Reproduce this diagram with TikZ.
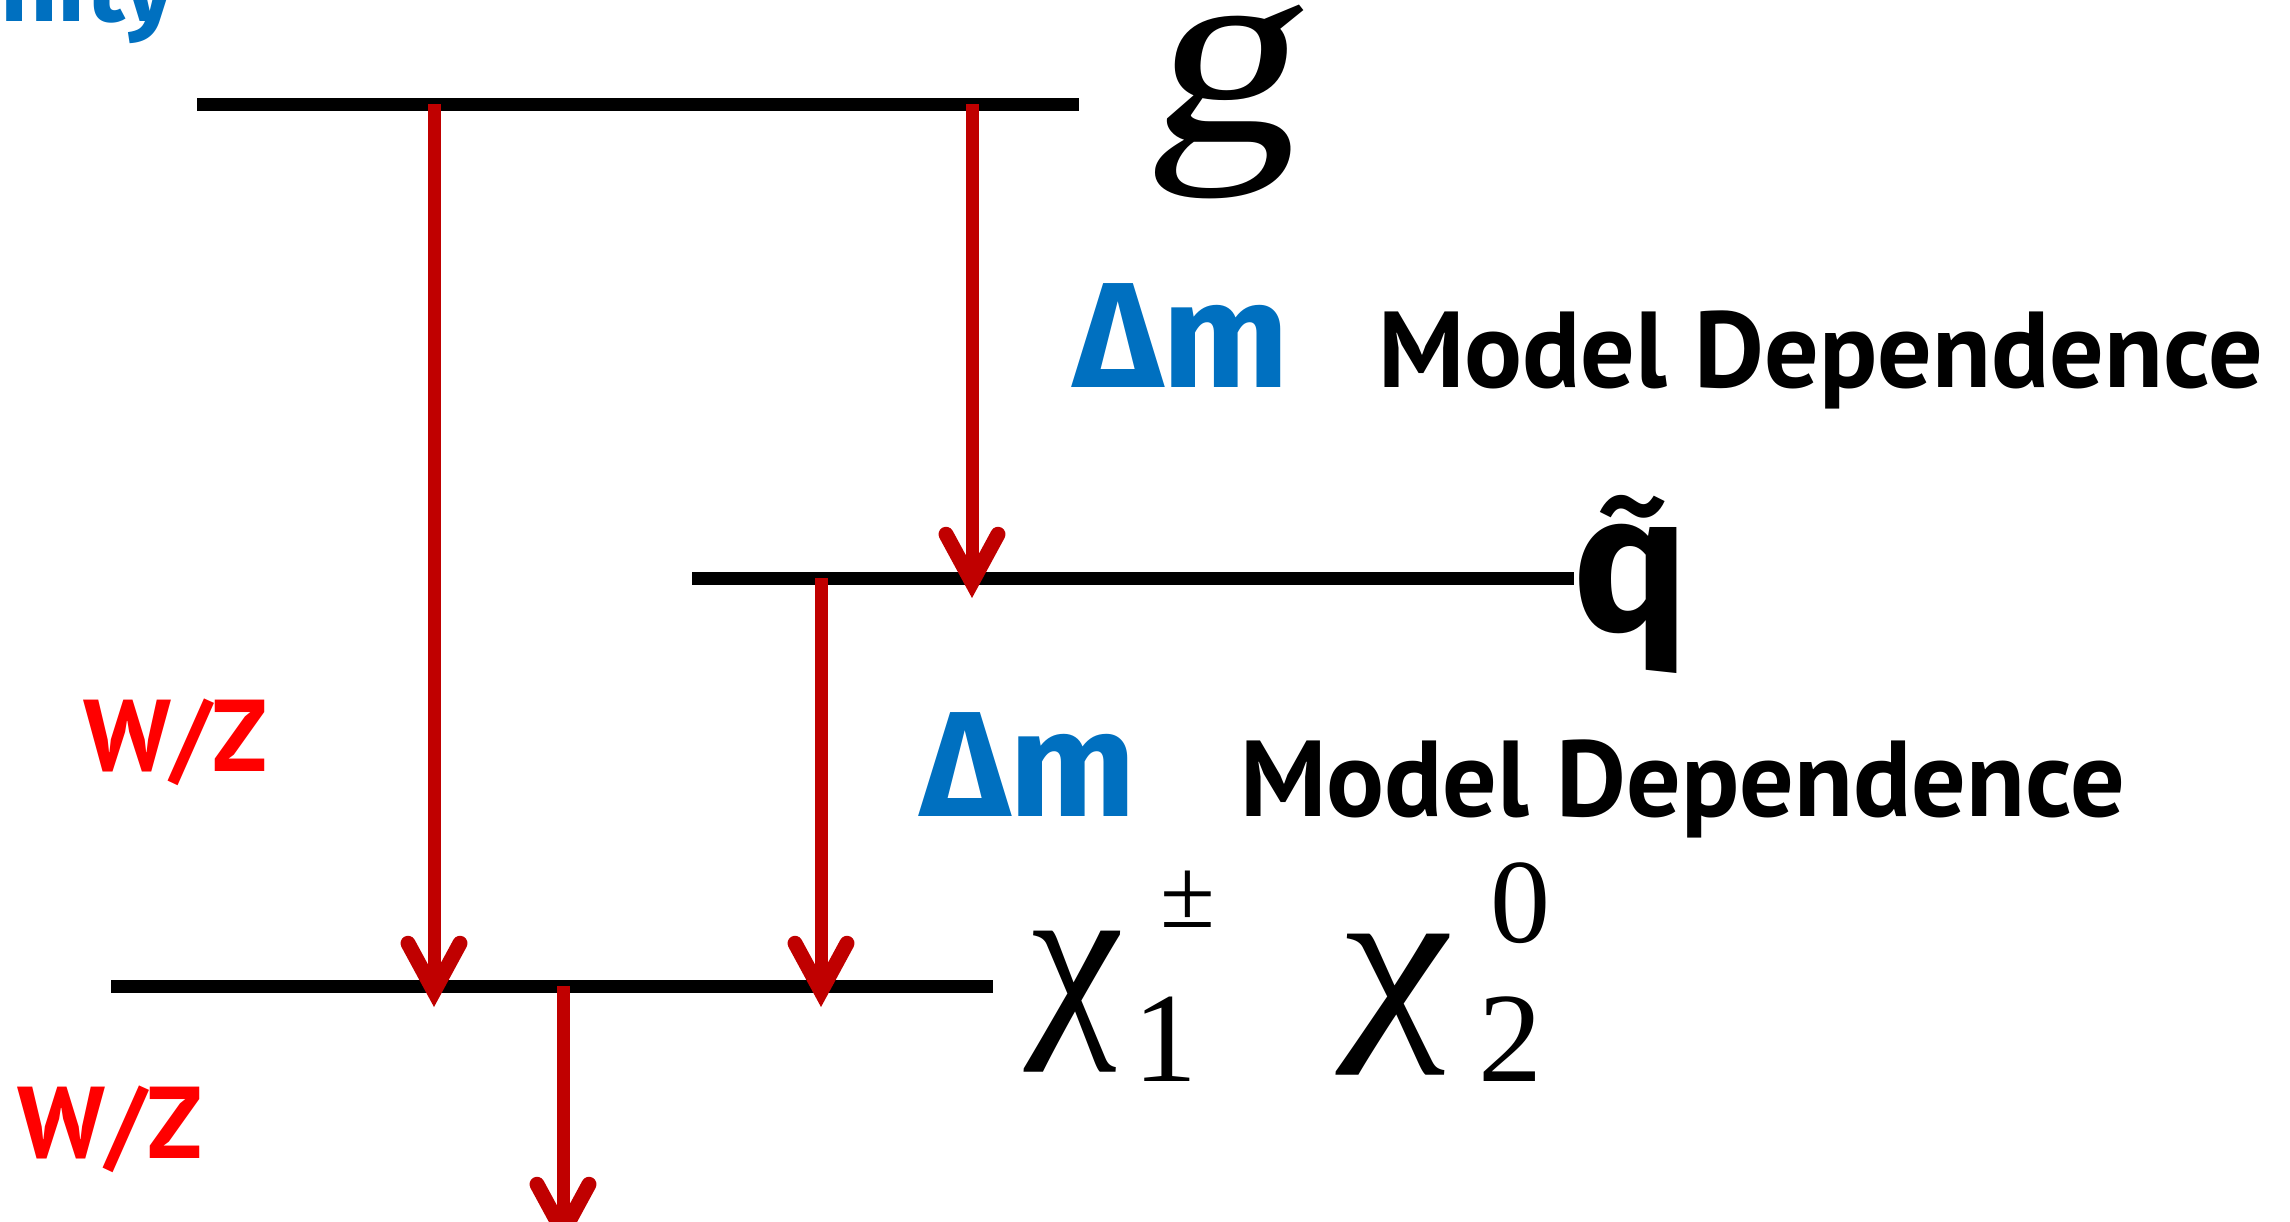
\documentclass[tikz,border=0pt]{standalone}
\usepackage{fontspec}
\setmainfont{Fira Sans}
\newfontfamily\serifgr{Liberation Serif}
\newfontfamily\chifont[ItalicFeatures={FakeSlant=-0.12}]{Liberation Serif}
\newfontfamily\gfont[FakeSlant=0.12]{Liberation Serif}
\newfontfamily\ptsans{PT Sans}
\newcommand{\qtil}{{\setbox0\hbox{q}\rlap{\copy0}\makebox[\wd0]{\hspace{2pt}\raisebox{-7.5pt}{\mdseries\char"02DC}}}}
\usetikzlibrary{arrows.meta}
\definecolor{arrowred}{HTML}{C00000}
\definecolor{labelred}{HTML}{FF0000}
\definecolor{dmblue}{HTML}{0070C0}
\begin{document}
\begin{tikzpicture}[x=0.5pt,y=-0.5pt,
  level/.style={line width=6.5pt, black},
  decay/.style={line width=6.5pt, arrowred,
    -{Straight Barb[length=24pt,width=26pt,line width=7.5pt,line cap=round,line join=miter]}},
  lab/.style={inner sep=0pt, outer sep=0pt},
  dmtext/.style={lab, anchor=base west, text=dmblue, font=\fontsize{75}{80}\selectfont\bfseries},
  mdtext/.style={lab, anchor=base west, font=\fontsize{54}{58}\selectfont\ptsans\bfseries},
  wztext/.style={lab, anchor=base west, text=labelred, font=\fontsize{51}{56}\selectfont\ptsans\bfseries},
  chitext/.style={lab, anchor=base west, font=\fontsize{105}{110}\selectfont\chifont\itshape},
  scripttext/.style={lab, anchor=base west, font=\fontsize{64}{68}\selectfont\serifgr}
]
\useasboundingbox (0,0) rectangle (2290,1221);
\clip (0,0) rectangle (2290,1221);

% cut-off title
\node[lab, anchor=base east, text=dmblue, font=\fontsize{50}{54}\selectfont\bfseries] (title) at (176,21) {nity};

% levels
\coordinate (gL) at (197,104);  \coordinate (gR) at (1079,104);
\coordinate (qL) at (692,578);  \coordinate (qR) at (1574,578);
\coordinate (cL) at (111,986);  \coordinate (cR) at (993,986);
\draw[level] (gL) -- (gR);
\draw[level] (qL) -- (qR);
\draw[level] (cL) -- (cR);

% arrow end points
\coordinate (a1s) at (434,104);  \coordinate (a1e) at (434,1007);
\coordinate (a2s) at (972,104);  \coordinate (a2e) at (972,598);
\coordinate (a3s) at (821,578);  \coordinate (a3e) at (821,1007);
\coordinate (a4s) at (563,986);  \coordinate (a4e) at (563,1248);
\draw[decay] (a1s) -- (a1e);
\draw[decay] (a2s) -- (a2e);
\draw[decay] (a3s) -- (a3e);
\draw[decay] (a4s) -- (a4e);

% labels
\node[lab, anchor=base, font=\fontsize{133}{140}\selectfont\gfont] (glab) at (1222,141) {\scalebox{1.14}[1]{g}};
\node[lab, anchor=base west, font=\fontsize{97}{100}\selectfont\bfseries] (qlab) at (1572,630) {\qtil};

\node[dmtext] (dm1) at (1073,387) {Δm};
\node[mdtext] (md1) at (1378,387) {Model Dependence};
\node[dmtext] (dm2) at (920,816) {Δm};
\node[mdtext] (md2) at (1240,816) {Model Dependence};

\node[wztext] (wz1) at (83,771) {W/Z};
\node[wztext] (wz2) at (18,1158) {W/Z};

\node[chitext] (chi1) at (1035,1027) {χ};
\node[scripttext] (chi1sub) at (1133,1081) {1};
\node[lab, anchor=base west, font=\fontsize{50}{54}\selectfont\serifgr] (chi1sup) at (1160,927) {±};
\node[chitext] (chi2) at (1349,1030) {\scalebox{1.18}[1]{χ}};
\node[scripttext] (chi2sub) at (1478,1081) {2};
\node[lab, anchor=base west, font=\fontsize{60}{64}\selectfont\serifgr] (chi2sup) at (1490,942) {0};
\end{tikzpicture}
\end{document}
